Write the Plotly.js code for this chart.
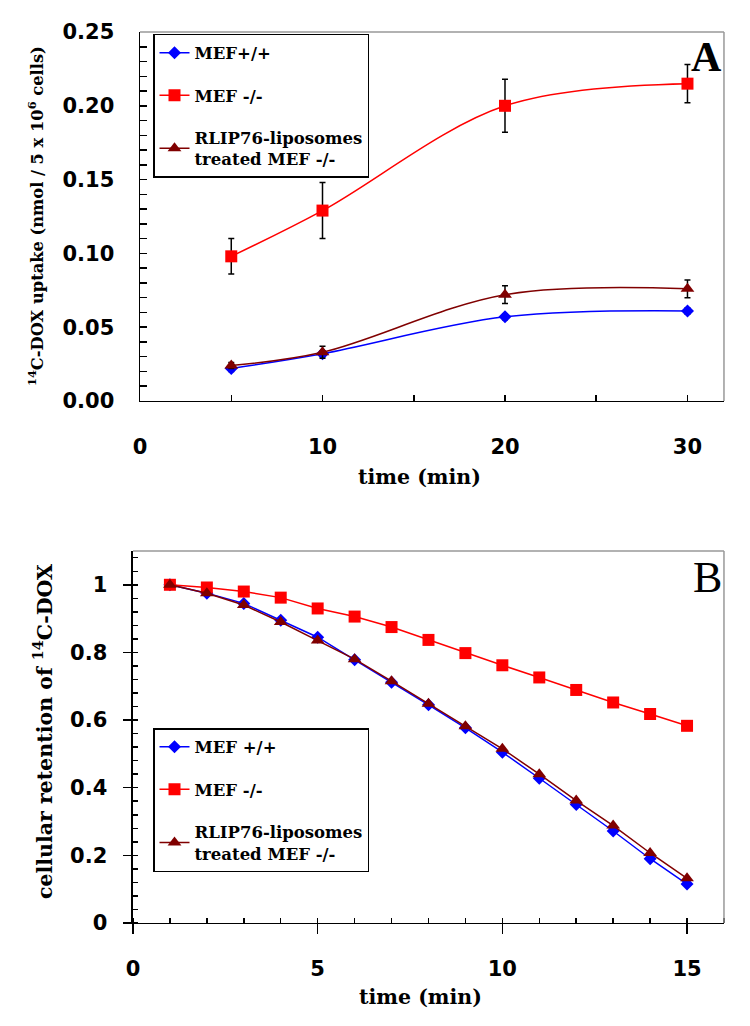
<!DOCTYPE html>
<html lang="en">
<head>
    <meta charset="UTF-8">
    <title>14C-DOX uptake and retention</title>
    <script src="https://cdn.plot.ly/plotly-3.0.1.min.js"></script>
    <style>
        body { margin: 0; padding: 0; background: white; }
        #chart { width: 750px; height: 1026px; }
    </style>
</head>
<body>
    <div id="chart"></div>
    <script>
        // Panel A: uptake (nmol / 5x10^6 cells)
        const timeA = [5, 10, 20, 30];
        const wtA = [0.022, 0.032, 0.057, 0.061];
        const wtAErr = [0.002, 0.002, 0.002, 0.002];
        const koA = [0.098, 0.129, 0.200, 0.215];
        const koAErr = [0.012, 0.019, 0.018, 0.013];
        const rlipA = [0.024, 0.033, 0.072, 0.076];
        const rlipAErr = [0.002, 0.004, 0.006, 0.006];

        // Panel B: cellular retention
        const timeB = [1, 2, 3, 4, 5, 6, 7, 8, 9, 10, 11, 12, 13, 14, 15];
        const wtB = [1, 0.975, 0.945, 0.895, 0.845, 0.778, 0.712, 0.645, 0.577, 0.505, 0.428, 0.35, 0.272, 0.19, 0.115];
        const koB = [1, 0.992, 0.98, 0.962, 0.93, 0.906, 0.875, 0.837, 0.798, 0.762, 0.726, 0.689, 0.652, 0.618, 0.583];
        const rlipB = [1, 0.975, 0.94, 0.89, 0.835, 0.78, 0.715, 0.648, 0.582, 0.515, 0.44, 0.362, 0.288, 0.207, 0.132];

        const namesA = ['MEF+/+', 'MEF -/-', 'RLIP76-liposomes<br>treated MEF -/-'];
        const namesB = ['MEF +/+', 'MEF -/-', 'RLIP76-liposomes<br>treated MEF -/-'];

        const BLUE = '#0000ff', RED = '#ff0000', DARK = '#800000';
        const serif = 'DejaVu Serif, serif';
        const sans = 'DejaVu Sans, Verdana, sans-serif';

        function errBar(arr) {
            return { type: 'data', array: arr, visible: true, color: 'black', thickness: 1.5, width: 3 };
        }

        const data = [
            { x: timeA, y: wtA, error_y: errBar(wtAErr), name: namesA[0], mode: 'lines+markers',
              line: { color: BLUE, width: 1.5, shape: 'spline' }, marker: { symbol: 'diamond', size: 10, color: BLUE },
              xaxis: 'x', yaxis: 'y', legend: 'legend', legendgroup: 'a1' },
            { x: timeA, y: koA, error_y: errBar(koAErr), name: namesA[1], mode: 'lines+markers',
              line: { color: RED, width: 1.5, shape: 'spline' }, marker: { symbol: 'square', size: 12, color: RED },
              xaxis: 'x', yaxis: 'y', legend: 'legend', legendgroup: 'a2' },
            { x: timeA, y: rlipA, error_y: errBar(rlipAErr), name: namesA[2], mode: 'lines+markers',
              line: { color: DARK, width: 1.5, shape: 'spline' }, marker: { symbol: 'triangle-up', size: 12, color: DARK },
              xaxis: 'x', yaxis: 'y', legend: 'legend', legendgroup: 'a3' },

            { x: timeB, y: wtB, name: namesB[0], mode: 'lines+markers',
              line: { color: BLUE, width: 1.5 }, marker: { symbol: 'diamond', size: 10, color: BLUE },
              xaxis: 'x2', yaxis: 'y2', legend: 'legend2', legendgroup: 'b1' },
            { x: timeB, y: koB, name: namesB[1], mode: 'lines+markers',
              line: { color: RED, width: 1.5 }, marker: { symbol: 'square', size: 12, color: RED },
              xaxis: 'x2', yaxis: 'y2', legend: 'legend2', legendgroup: 'b2' },
            { x: timeB, y: rlipB, name: namesB[2], mode: 'lines+markers',
              line: { color: DARK, width: 1.5 }, marker: { symbol: 'triangle-up', size: 12, color: DARK },
              xaxis: 'x2', yaxis: 'y2', legend: 'legend2', legendgroup: 'b3' }
        ];

        const tickFont = { family: sans, size: 21, color: 'black', weight: 'bold' };
        const legendFont = { family: serif, size: 16.5, color: 'black', weight: 'bold' };

        const layout = {
            width: 750,
            height: 1026,
            margin: { l: 0, r: 0, t: 0, b: 0 },
            paper_bgcolor: 'white',
            plot_bgcolor: 'white',
            showlegend: true,
            xaxis: {
                domain: [0.1867, 0.9653], anchor: 'y', range: [0, 32],
                dtick: 10, tick0: 0, ticks: 'inside', ticklen: 6, tickwidth: 1.5, tickcolor: 'black',
                minor: { dtick: 5, tick0: 0, ticks: 'inside', ticklen: 6, tickwidth: 1.5, tickcolor: 'black' },
                showline: true, linecolor: 'black', linewidth: 1.5, showgrid: false, zeroline: false,
                tickfont: tickFont, ticklabelstandoff: 26
            },
            yaxis: {
                domain: [0.6092, 0.9688], anchor: 'x', range: [0, 0.25],
                dtick: 0.05, tick0: 0, tickformat: '.2f', ticks: 'inside', ticklen: 7, tickwidth: 1.5, tickcolor: 'black',
                minor: { dtick: 0.01, tick0: 0, ticks: 'inside', ticklen: 7, tickwidth: 1.5, tickcolor: 'black' },
                showline: true, linecolor: 'black', linewidth: 1.5, showgrid: false, zeroline: false,
                tickfont: tickFont, ticklabelstandoff: 20
            },
            xaxis2: {
                domain: [0.1773, 0.9653], anchor: 'y2', range: [0, 16],
                dtick: 5, tick0: 0, ticks: 'outside', ticklen: 10, tickwidth: 1.5, tickcolor: 'black',
                minor: { dtick: 1, tick0: 0, ticks: 'inside', ticklen: 5, tickwidth: 1.5, tickcolor: 'black' },
                showline: true, linecolor: 'black', linewidth: 1.5, showgrid: false, zeroline: false,
                tickfont: tickFont, ticklabelstandoff: 16
            },
            yaxis2: {
                domain: [0.1004, 0.4630], anchor: 'x2', range: [0, 1.1],
                dtick: 0.2, tick0: 0, ticks: 'outside', ticklen: 8, tickwidth: 1.5, tickcolor: 'black',
                minor: { dtick: 0.04, tick0: 0, ticks: 'inside', ticklen: 5, tickwidth: 1.5, tickcolor: 'black' },
                showline: true, linecolor: 'black', linewidth: 1.5, showgrid: false, zeroline: false,
                tickfont: tickFont, ticklabelstandoff: 12
            },
            legend: {
                x: 0.204, y: 0.9669, xanchor: 'left', yanchor: 'top',
                bgcolor: 'white', bordercolor: 'black', borderwidth: 1.5,
                font: legendFont, tracegroupgap: 18, traceorder: 'grouped'
            },
            legend2: {
                x: 0.204, y: 0.2904, xanchor: 'left', yanchor: 'top',
                bgcolor: 'white', bordercolor: 'black', borderwidth: 1.5,
                font: legendFont, tracegroupgap: 18, traceorder: 'grouped'
            },
            shapes: [
                // gray top/right frame lines
                { type: 'line', xref: 'x domain', yref: 'y domain', x0: 0, x1: 1, y0: 1, y1: 1, line: { color: '#999999', width: 1.5 } },
                { type: 'line', xref: 'x domain', yref: 'y domain', x0: 1, x1: 1, y0: 0, y1: 1, line: { color: '#999999', width: 1.5 } },
                { type: 'line', xref: 'x2 domain', yref: 'y2 domain', x0: 0, x1: 1, y0: 1, y1: 1, line: { color: '#999999', width: 1.5 } },
                { type: 'line', xref: 'x2 domain', yref: 'y2 domain', x0: 1, x1: 1, y0: 0, y1: 1, line: { color: '#999999', width: 1.5 } }
            ],
            annotations: [
                { text: '<b>A</b>', xref: 'x domain', yref: 'y domain', x: 1, y: 1, xanchor: 'right', yanchor: 'top',
                  showarrow: false, font: { family: 'Liberation Serif, serif', size: 42, color: 'black' } },
                { text: 'B', xref: 'x2 domain', yref: 'y2 domain', x: 1, y: 1, xanchor: 'right', yanchor: 'top',
                  showarrow: false, font: { family: 'Liberation Serif, serif', size: 44, color: 'black' } },
                { text: '<b><sup>14</sup>C-DOX uptake (nmol / 5 x 10<sup>6</sup> cells)</b>', xref: 'paper', yref: 'paper',
                  x: 36 / 750, y: 1 - 216 / 1026, xanchor: 'center', yanchor: 'middle', textangle: -90, showarrow: false,
                  font: { family: serif, size: 16.3, color: 'black' } },
                { text: '<b>time (min)</b>', xref: 'paper', yref: 'paper',
                  x: 419 / 750, y: 1 - 477 / 1026, xanchor: 'center', yanchor: 'middle', showarrow: false,
                  font: { family: serif, size: 20.5, color: 'black' } },
                { text: '<b>cellular retention of <sup>14</sup>C-DOX</b>', xref: 'paper', yref: 'paper',
                  x: 43 / 750, y: 1 - 732 / 1026, xanchor: 'center', yanchor: 'middle', textangle: -90, showarrow: false,
                  font: { family: serif, size: 20.5, color: 'black' } },
                { text: '<b>time (min)</b>', xref: 'paper', yref: 'paper',
                  x: 420 / 750, y: 1 - 997 / 1026, xanchor: 'center', yanchor: 'middle', showarrow: false,
                  font: { family: serif, size: 20.5, color: 'black' } }
            ]
        };

        Plotly.newPlot('chart', data, layout, { displayModeBar: false, staticPlot: true });
    </script>
</body>
</html>
